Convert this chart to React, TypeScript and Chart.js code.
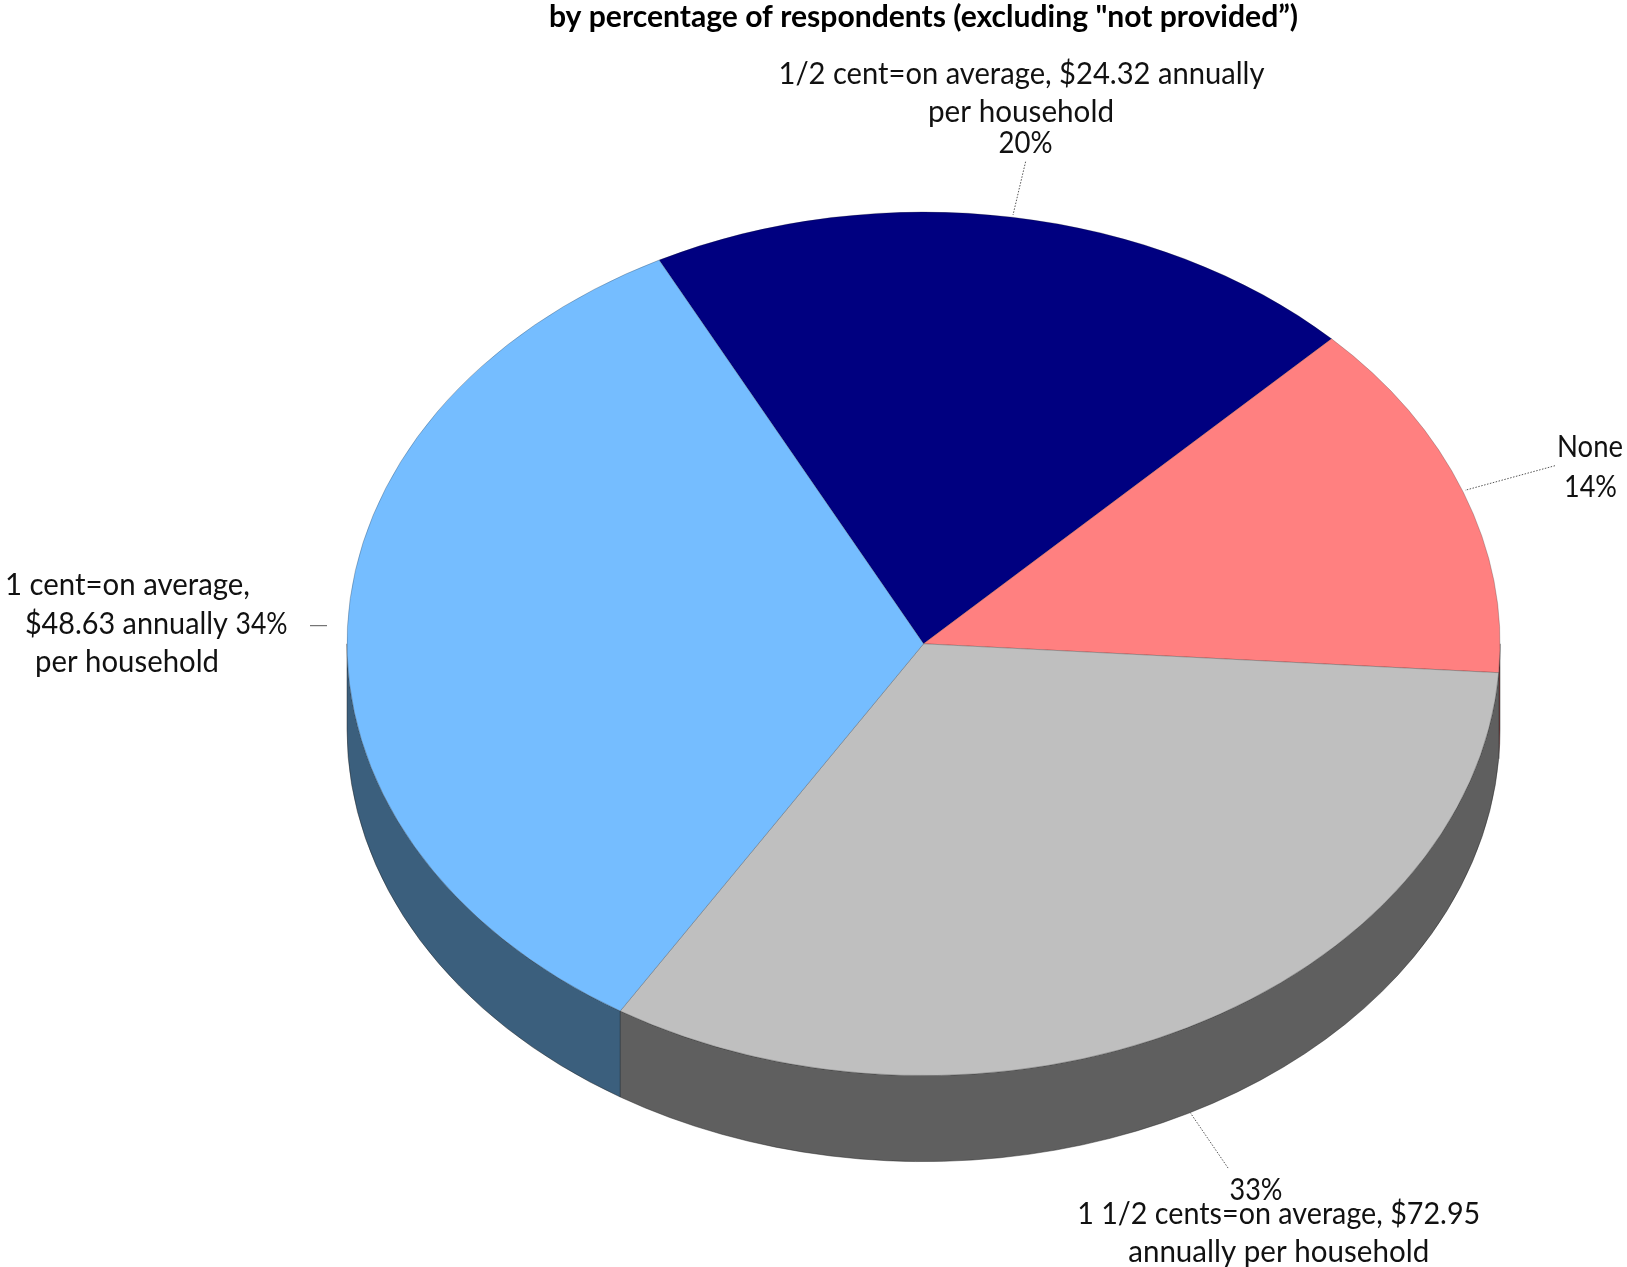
import React, { useEffect, useRef } from "react";
import { Chart, registerables } from "chart.js";

Chart.register(...registerables);

const titleText = 'by percentage of respondents (excluding "not provided”)';
const categories = [
  "1/2 cent=on average, $24.32 annually per household",
  "None",
  "1 1/2 cents=on average, $72.95 annually per household",
  "1 cent=on average, $48.63 annually per household",
];
const values = [20.1, 13.55, 32.75, 33.6];
const topColors = ["#000080", "#FF8080", "#BFBFBF", "#75BDFF"];
const wallColors = ["#000040", "#804040", "#5F5F5F", "#3B5F7D"];

const FONT = "Lato, Carlito, sans-serif";
const RADIUS = 576.5;
const SQUASH = 0.749;
const DEPTH = 86;
const LABEL_SIZE = 30;

// x = centre, y = baseline, w = fitted width
const labelLayout: { cat: number; line?: string; pct?: boolean; x: number; y: number; w: number }[] = [
  { cat: 0, line: "1/2 cent=on average, $24.32 annually", x: 1021.5, y: 84, w: 486 },
  { cat: 0, line: "per household", x: 1021, y: 122, w: 186 },
  { cat: 0, pct: true, x: 1025.6, y: 153, w: 54 },
  { cat: 1, line: "None", x: 1590, y: 457, w: 66 },
  { cat: 1, pct: true, x: 1590.5, y: 497, w: 53 },
  { cat: 2, pct: true, x: 1256, y: 1200, w: 53 },
  { cat: 2, line: "1 1/2 cents=on average, $72.95", x: 1278.7, y: 1224, w: 403 },
  { cat: 2, line: "annually per household", x: 1278.7, y: 1262, w: 301 },
  { cat: 3, line: "1 cent=on average,", x: 127.5, y: 594.5, w: 245 },
  { cat: 3, line: "$48.63 annually", x: 126.4, y: 633.5, w: 203 },
  { cat: 3, line: "per household", x: 127, y: 672, w: 184 },
  { cat: 3, pct: true, x: 261.5, y: 634, w: 52 },
];

const leaderLines = [
  [1025.6, 161.7, 1013, 215],
  [1555, 465.7, 1465, 490.3],
  [1190, 1112.3, 1228.7, 1169],
];
const shortLeader = [310, 625.7, 327, 625.7];

const piePlugin = {
  id: "tiltedPie",
  beforeDatasetsDraw(chart: any) {
    const ctx = chart.ctx;
    const arcs = chart.getDatasetMeta(0).data;
    const { x: cx, y: cy, outerRadius: r } = arcs[0];
    const ry = r * SQUASH;
    const TAU = Math.PI * 2;
    arcs.forEach((arc: any, i: number) => {
      let a0 = arc.startAngle % TAU;
      if (a0 < 0) a0 += TAU;
      let a1 = a0 + (arc.endAngle - arc.startAngle);
      for (const shift of [0, TAU]) {
        const s = Math.max(a0, shift);
        const e = Math.min(a1, shift + Math.PI);
        if (e <= s) continue;
        ctx.save();
        ctx.beginPath();
        ctx.ellipse(cx, cy, r, ry, 0, s, e, false);
        ctx.ellipse(cx, cy + DEPTH, r, ry, 0, e, s, true);
        ctx.closePath();
        ctx.fillStyle = wallColors[i];
        ctx.strokeStyle = "rgba(30,30,30,0.55)";
        ctx.lineWidth = 0.8;
        ctx.fill();
        ctx.stroke();
        ctx.restore();
      }
    });
    ctx.save();
    ctx.translate(cx, cy);
    ctx.scale(1, SQUASH);
    ctx.translate(-cx, -cy);
  },
  afterDatasetsDraw(chart: any) {
    chart.ctx.restore();
  },
  afterDraw(chart: any) {
    const ctx = chart.ctx;
    ctx.save();
    ctx.strokeStyle = "#555555";
    ctx.lineWidth = 1;
    ctx.beginPath();
    ctx.moveTo(shortLeader[0], shortLeader[1]);
    ctx.lineTo(shortLeader[2], shortLeader[3]);
    ctx.stroke();
    ctx.setLineDash([1.5, 1.5]);
    leaderLines.forEach(([x0, y0, x1, y1]) => {
      ctx.beginPath();
      ctx.moveTo(x0, y0);
      ctx.lineTo(x1, y1);
      ctx.stroke();
    });
    ctx.setLineDash([]);
    ctx.fillStyle = "#111111";
    ctx.font = `${LABEL_SIZE}px ${FONT}`;
    ctx.textAlign = "center";
    ctx.textBaseline = "alphabetic";
    labelLayout.forEach((l) => {
      const text = l.pct ? `${Math.round(values[l.cat])}%` : (l.line as string);
      ctx.fillText(text, l.x, l.y, l.w);
    });
    ctx.restore();
  },
};

export default function App() {
  const ref = useRef<HTMLCanvasElement>(null);
  useEffect(() => {
    const chart = new Chart(ref.current as HTMLCanvasElement, {
      type: "pie",
      data: {
        labels: categories,
        datasets: [
          {
            data: values,
            backgroundColor: topColors,
            borderColor: "rgba(30,30,30,0.4)",
            borderWidth: 0.7,
            clip: false,
          } as any,
        ],
      },
      options: {
        animation: false,
        responsive: false,
        devicePixelRatio: 1,
        rotation: -27.3,
        radius: RADIUS,
        layout: { padding: { left: 220, bottom: 11.5, top: 0, right: 0 } },
        plugins: {
          legend: { display: false },
          tooltip: { enabled: false },
          title: {
            display: true,
            text: titleText,
            fullSize: false,
            color: "#000000",
            font: { family: FONT, size: 30.1, weight: "bold", lineHeight: 1 },
            padding: { top: 2, bottom: 0 },
          },
        },
      } as any,
      plugins: [piePlugin as any],
    });
    return () => chart.destroy();
  }, []);
  return (
    <div style={{ position: "absolute", left: 0, top: 0, width: 1627, height: 1267, background: "#ffffff" }}>
      <canvas ref={ref} width={1627} height={1267} style={{ display: "block" }} />
    </div>
  );
}
